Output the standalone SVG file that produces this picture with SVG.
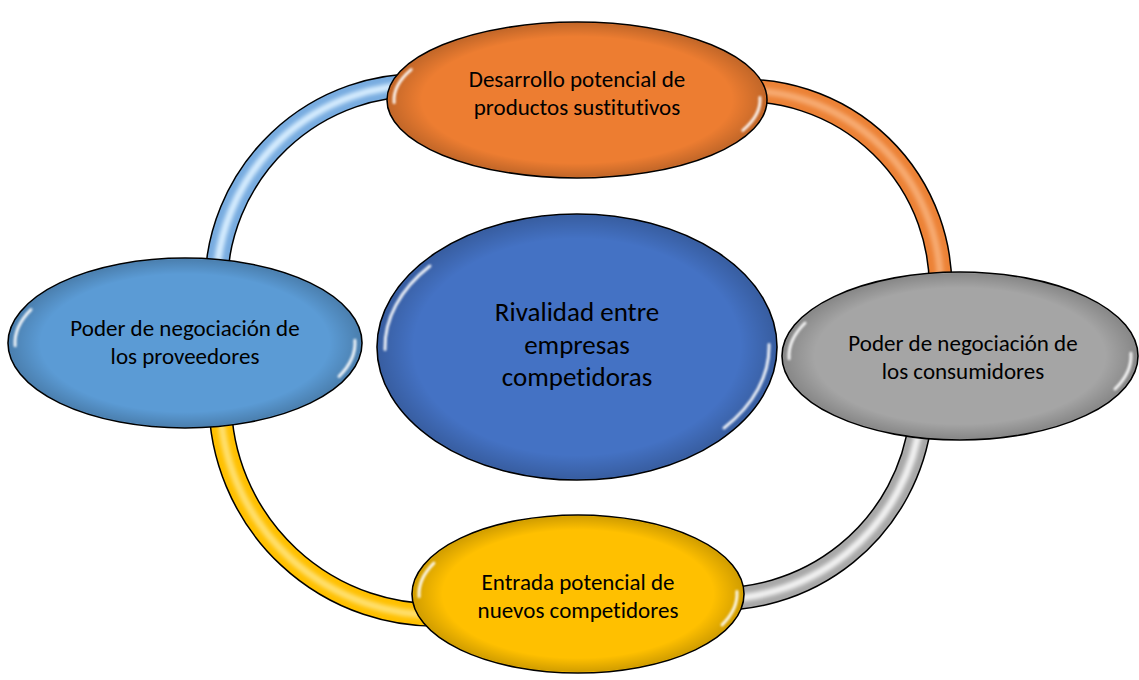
<svg xmlns="http://www.w3.org/2000/svg" xmlns:xlink="http://www.w3.org/1999/xlink" width="1139" height="680" viewBox="0 0 1139 680">
<style>
  .edge { fill: none; stroke: #000; stroke-width: 24; }
  .band { fill: none; stroke-width: 21; }
  .shine { fill: none; stroke-width: 7; filter: url(#soft); }
  .node-shape { stroke: #000; stroke-width: 1.6; }
  .shade { fill: url(#rim); stroke: none; }
  .gloss { fill: none; stroke: #fff; stroke-width: 3; stroke-linecap: round; opacity: 0.9; filter: url(#glow); }
  .label { font-family: Carlito, Calibri, Lato, "Liberation Sans", sans-serif; font-size: 23px; fill: #000; text-anchor: middle; font-variant-ligatures: none; }
  .big { font-size: 27px; }
</style>
<defs>
  <filter id="soft" x="-20%" y="-20%" width="140%" height="140%">
    <feGaussianBlur stdDeviation="2"/>
  </filter>
  <filter id="glow" x="-50%" y="-50%" width="200%" height="200%">
    <feGaussianBlur stdDeviation="1.3"/>
  </filter>
  <radialGradient id="rim" cx="0.5" cy="0.5" r="0.5">
    <stop offset="0.82" stop-color="#000" stop-opacity="0"/>
    <stop offset="1" stop-color="#000" stop-opacity="0.18"/>
  </radialGradient>
  <path id="arcTL" d="M 430 85.3 A 203 203 0 0 0 216 288"/>
  <path id="arcTR" d="M 725 91.4 A 196.5 196.5 0 0 1 940.1 300"/>
  <path id="arcBR" d="M 920.5 420 A 204 204 0 0 1 700 598.2"/>
  <path id="arcBL" d="M 220 400 A 216 216 0 0 0 450 614.5"/>
</defs>

<g id="connectors">
  <use xlink:href="#arcTL" class="edge"/>
  <use xlink:href="#arcTL" class="band" stroke="#78ace0"/>
  <use xlink:href="#arcTL" class="shine" stroke="#d8eeff"/>

  <use xlink:href="#arcTR" class="edge"/>
  <use xlink:href="#arcTR" class="band" stroke="#ec8236"/>
  <use xlink:href="#arcTR" class="shine" stroke="#f7ab72"/>

  <use xlink:href="#arcBR" class="edge"/>
  <use xlink:href="#arcBR" class="band" stroke="#a8a8a8"/>
  <use xlink:href="#arcBR" class="shine" stroke="#f4f4f4"/>

  <use xlink:href="#arcBL" class="edge"/>
  <use xlink:href="#arcBL" class="band" stroke="#ffc000"/>
  <use xlink:href="#arcBL" class="shine" stroke="#ffe070"/>
</g>

<g id="node-sustitutos">
  <ellipse class="node-shape" cx="577" cy="100" rx="190" ry="78" fill="#ED7D31"/>
  <ellipse class="shade" cx="577" cy="100" rx="189" ry="77"/>
  <path class="gloss" d="M 411.15 69.57 A 183 72 0 0 0 394.11 102.51"/>
  <path class="gloss" d="M 759.89 97.49 A 183 72 0 0 1 742.85 130.43"/>
  <text class="label" x="577" y="87">Desarrollo potencial de</text>
  <text class="label" x="577" y="115">productos sustitutivos</text>
</g>

<g id="node-proveedores">
  <ellipse class="node-shape" cx="185" cy="343" rx="177" ry="85" fill="#5B9BD5"/>
  <ellipse class="shade" cx="185" cy="343" rx="176" ry="84"/>
  <path class="gloss" d="M 30.93 309.61 A 170 79 0 0 0 15.10 345.76"/>
  <path class="gloss" d="M 354.90 340.24 A 170 79 0 0 1 339.07 376.39"/>
  <text class="label" x="185" y="336">Poder de negociación de</text>
  <text class="label" x="185" y="364">los proveedores</text>
</g>

<g id="node-rivalidad">
  <ellipse class="node-shape" cx="577" cy="347" rx="200" ry="133" fill="#4472C4"/>
  <ellipse class="shade" cx="577" cy="347" rx="199" ry="132"/>
  <path class="gloss" d="M 429.93 266.01 A 192 126 0 0 0 385 349.52"/>
  <path class="gloss" d="M 769 344.48 A 192 126 0 0 1 724.07 427.99"/>
  <text class="label big" x="577" y="321">Rivalidad entre</text>
  <text class="label big" x="577" y="353.5">empresas</text>
  <text class="label big" x="577" y="386">competidoras</text>
</g>

<g id="node-consumidores">
  <ellipse class="node-shape" cx="960" cy="356" rx="178" ry="84" fill="#A5A5A5"/>
  <ellipse class="shade" cx="960" cy="356" rx="177" ry="83"/>
  <path class="gloss" d="M 805.02 323.04 A 171 78 0 0 0 789.10 358.72"/>
  <path class="gloss" d="M 1130.90 353.28 A 171 78 0 0 1 1114.98 388.96"/>
  <text class="label" x="963" y="350.5">Poder de negociación de</text>
  <text class="label" x="963" y="378.5">los consumidores</text>
</g>

<g id="node-entrantes">
  <ellipse class="node-shape" cx="578" cy="594" rx="166" ry="79" fill="#FFC000"/>
  <ellipse class="shade" cx="578" cy="594" rx="165" ry="78"/>
  <path class="gloss" d="M 433.90 563.15 A 159 73 0 0 0 419.10 596.55"/>
  <path class="gloss" d="M 736.90 591.45 A 159 73 0 0 1 722.10 624.85"/>
  <text class="label" x="578" y="590">Entrada potencial de</text>
  <text class="label" x="578" y="618">nuevos competidores</text>
</g>
</svg>
